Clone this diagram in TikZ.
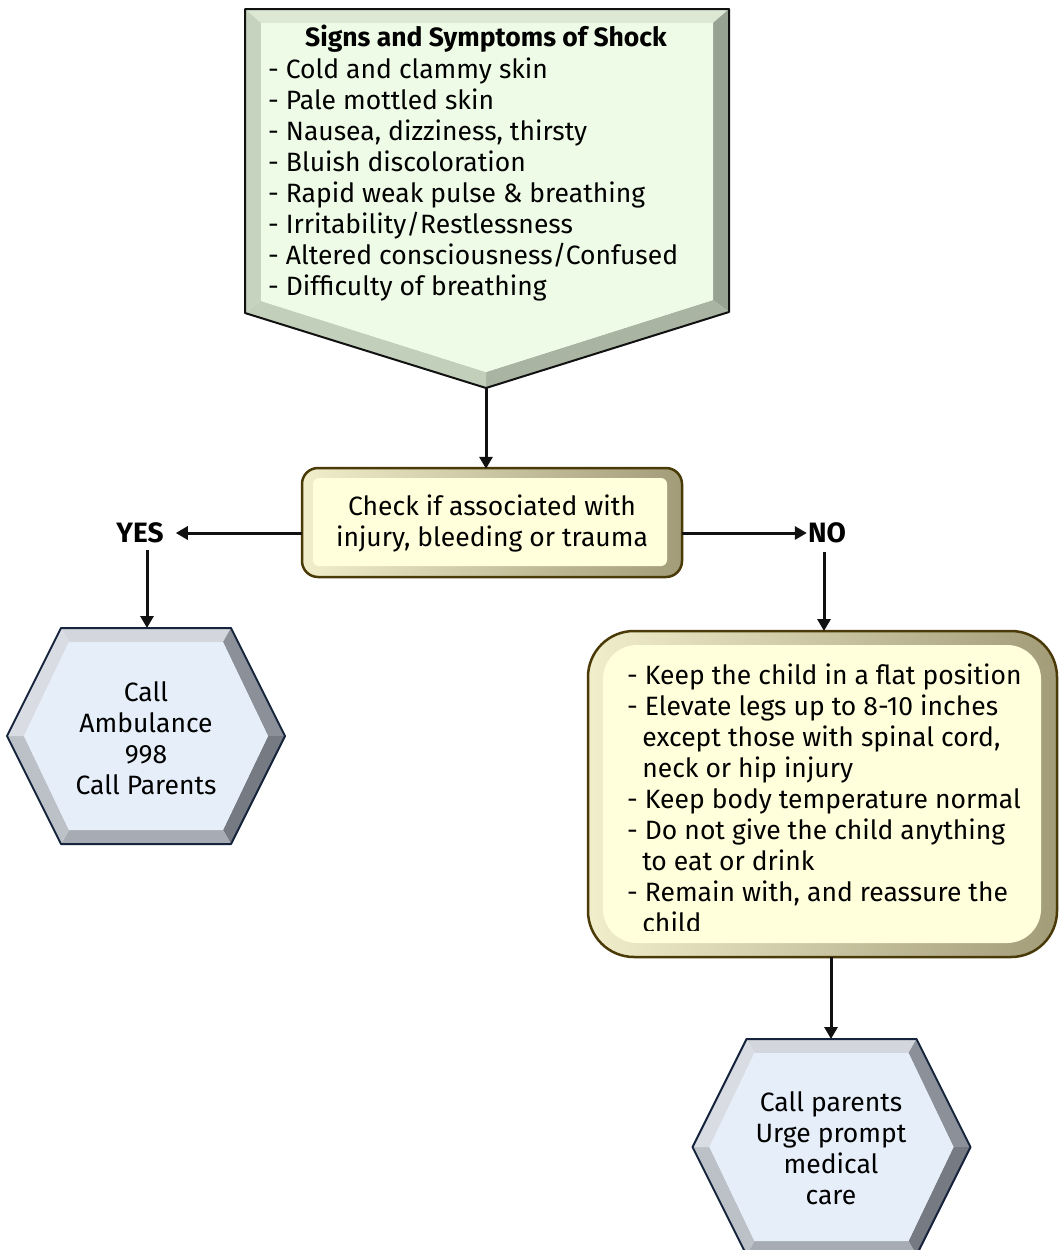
\documentclass[tikz,border=0pt]{standalone}
\usepackage{fontspec}
\setmainfont{Fira Sans}
\usetikzlibrary{arrows.meta}

\definecolor{inkline}{HTML}{111111}
% green pentagon
\definecolor{symIn}{HTML}{EEFBE6}
\definecolor{symTop}{HTML}{DCE8D4}
\definecolor{symLeft}{HTML}{C6D3BE}
\definecolor{symRight}{HTML}{97A292}
\definecolor{symBL}{HTML}{C2CFBA}
\definecolor{symBR}{HTML}{A9B5A2}
% yellow boxes
\definecolor{boxIn}{HTML}{FFFFDC}
\definecolor{boxLight}{HTML}{F1EECB}
\definecolor{boxDark}{HTML}{A39C78}
\definecolor{boxEdge}{HTML}{4A3A08}
% blue hexagons
\definecolor{hexIn}{HTML}{E6EEFA}
\definecolor{hexTop}{HTML}{D3D7DD}
\definecolor{hexUL}{HTML}{D9DDE3}
\definecolor{hexLL}{HTML}{BCC1C8}
\definecolor{hexBot}{HTML}{A7ACB4}
\definecolor{hexLR}{HTML}{767B83}
\definecolor{hexUR}{HTML}{8C9199}
\definecolor{hexEdge}{HTML}{15233C}

\tikzset{
  txt/.style={font=\fontsize{26.5}{31}\selectfont, inner sep=0pt, align=center},
  listtxt/.style={font=\fontsize{26.5}{31}\selectfont, inner sep=0pt, align=left},
  answer/.style={font=\bfseries\fontsize{28}{30}\selectfont, inner sep=0pt},
  arr/.style={line width=3pt, draw=inkline, -{Triangle[length=12pt,width=13pt]}},
}

% bevelled hexagon centred at the current origin of a shifted scope
\newcommand\bevelhex{%
  \fill[hexTop] (-85,-108) -- (85,-108) -- (77,-94) -- (-77,-94) -- cycle;
  \fill[hexUR] (85,-108) -- (139,0) -- (122,0) -- (77,-94) -- cycle;
  \fill[hexLR] (139,0) -- (85,108) -- (77,94) -- (122,0) -- cycle;
  \fill[hexBot] (85,108) -- (-85,108) -- (-77,94) -- (77,94) -- cycle;
  \fill[hexLL] (-85,108) -- (-139,0) -- (-122,0) -- (-77,94) -- cycle;
  \fill[hexUL] (-139,0) -- (-85,-108) -- (-77,-94) -- (-122,0) -- cycle;
  \fill[hexIn] (-122,0) -- (-77,-94) -- (77,-94) -- (122,0) -- (77,94) -- (-77,94) -- cycle;
  \draw[hexEdge, line width=2pt, line join=round]
    (-139,0) -- (-85,-108) -- (85,-108) -- (139,0) -- (85,108) -- (-85,108) -- cycle;
}

\begin{document}
\begin{tikzpicture}[x=1pt, y=-1pt]
\useasboundingbox (0,0) rectangle (1060,1250);
\clip (0,0) rectangle (1060,1250);
\fill[white] (0,0) rectangle (1060,1250);

% ---------- symptoms pentagon ----------
\fill[symTop] (245,9) -- (729,9) -- (713,23) -- (261,23) -- cycle;
\fill[symRight] (729,9) -- (729,312) -- (713,300) -- (713,23) -- cycle;
\fill[symBR] (729,312) -- (486,388) -- (486,372) -- (713,300) -- cycle;
\fill[symBL] (486,388) -- (245,313) -- (261,301) -- (486,372) -- cycle;
\fill[symLeft] (245,313) -- (245,9) -- (261,23) -- (261,301) -- cycle;
\fill[symIn] (261,23) -- (713,23) -- (713,300) -- (486,372) -- (261,301) -- cycle;
\draw[inkline, line width=2pt, line join=round]
  (245,9) -- (729,9) -- (729,312) -- (486,388) -- (245,313) -- cycle;
\coordinate (symtip) at (486,388);

\node[txt, font=\bfseries\fontsize{26.5}{31}\selectfont] (symtitle) at (486,39)
  {Signs and Symptoms of Shock};
\node[listtxt, anchor=west] (symlist) at (268,179) {%
  - Cold and clammy skin\\
  - Pale mottled skin\\
  - Nausea, dizziness, thirsty\\
  - Bluish discoloration\\
  - Rapid weak pulse \& breathing\\
  - Irritability/Restlessness\\
  - Altered consciousness/Confused\\
  - Difficulty of breathing};

% ---------- check box ----------
\fill[left color=boxLight, right color=boxDark, rounded corners=16]
  (302,468) rectangle (682,577);
\fill[boxIn, rounded corners=6] (313,478) rectangle (667,566);
\draw[boxEdge, line width=2.5pt, rounded corners=16] (302,468) rectangle (682,577);
\node[txt, minimum width=380pt, minimum height=109pt] (check) at (492,523.5)
  {Check if associated with\\injury, bleeding or trauma};

% ---------- yes / no ----------
\node[answer] (yes) at (140,533) {YES};
\node[answer] (no) at (827,533) {NO};

% ---------- ambulance hexagon ----------
\begin{scope}[shift={(146,736)}]
  \bevelhex
\end{scope}
\coordinate (hexLtop) at (147,628);
\node[txt] (ambulance) at (146,738) {Call\\Ambulance\\998\\Call Parents};

% ---------- first aid box ----------
\fill[left color=boxLight, right color=boxDark, rounded corners=46]
  (588,631) rectangle (1057,957);
\fill[boxIn, rounded corners=34] (603,645) rectangle (1041,943);
\draw[boxEdge, line width=2.5pt, rounded corners=46] (588,631) rectangle (1057,957);
\node[minimum width=469pt, minimum height=326pt, inner sep=0pt] (care) at (822.5,794) {};
\begin{scope}
  \clip (603,645) rectangle (1041,930);
  \node[listtxt, anchor=north west] (caretext) at (627,664) {%
    - Keep the child in a flat position\\
    - Elevate legs up to 8-10 inches\\
    \phantom{-}\,except those with spinal cord,\\
    \phantom{-}\,neck or hip injury\\
    - Keep body temperature normal\\
    - Do not give the child anything\\
    \phantom{-}\,to eat or drink\\
    - Remain with, and reassure the\\
    \phantom{-}\,child};
\end{scope}

% ---------- parents hexagon ----------
\begin{scope}[shift={(831.5,1147)}]
  \bevelhex
\end{scope}
\coordinate (hexRtop) at (831,1039);
\node[txt] (parents) at (831,1148) {Call parents\\Urge prompt\\medical\\care};

% ---------- connectors ----------
\draw[arr] (symtip) -- (symtip |- check.north);
\draw[arr] (yes -| check.west) -- ([xshift=12pt]yes.east);
\draw[arr] (yes -| check.east) -- ([xshift=-1pt]no.west);
\draw[arr] ([yshift=-7pt]hexLtop |- yes.south) -- (hexLtop);
\draw[arr] (824,552) -- (824,631);
\draw[arr] (hexRtop |- care.south) -- (hexRtop);
\end{tikzpicture}
\end{document}
